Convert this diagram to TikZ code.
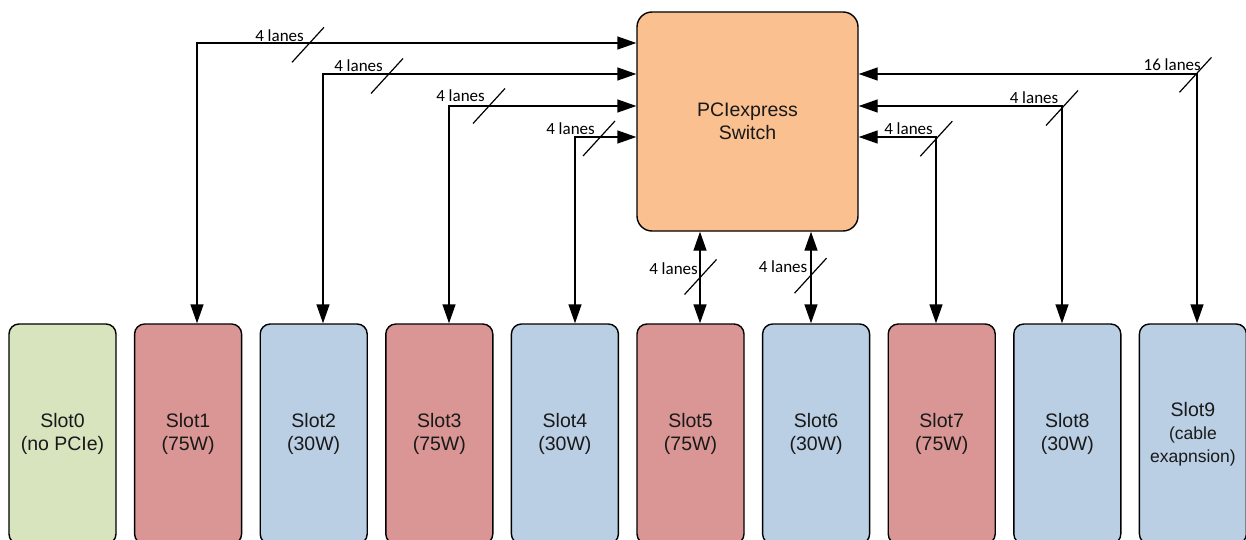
\documentclass[tikz,border=0pt]{standalone}
\usepackage{fontspec}
\setmainfont{Liberation Sans}
\newfontfamily\lanefont{Carlito}
\usetikzlibrary{arrows.meta}
\definecolor{switchfill}{HTML}{FAC090}
\definecolor{greenslot}{HTML}{D7E4BD}
\definecolor{redslot}{HTML}{D99694}
\definecolor{blueslot}{HTML}{BACEE4}

\begin{document}
\begin{tikzpicture}[x=1pt,y=-1pt,
  boxtext/.style={font=\fontsize{19.5}{23}\selectfont, align=center, text=black!90},
  slotbox/.style={boxtext, draw, line width=1.4pt, rounded corners=10pt,
    minimum width=107pt, minimum height=220pt, inner sep=0pt},
  greenbox/.style={slotbox, fill=greenslot},
  redbox/.style={slotbox, fill=redslot},
  bluebox/.style={slotbox, fill=blueslot},
  switchbox/.style={boxtext, draw, line width=1.4pt, rounded corners=15pt,
    fill=switchfill, minimum width=221pt, minimum height=219pt, inner sep=0pt},
  tip/.tip={Triangle[length=19pt,width=13pt]},
  link/.style={line width=1.4pt, tip-tip},
  lanelabel/.style={font=\lanefont\fontsize{17}{20}\selectfont, inner sep=0pt, anchor=base east},
  lanemark/.pic={\draw[line width=1.2pt] (-16,17.5) -- (16,-17.5);}
]
\useasboundingbox (0,0) rectangle (1246,540);

% switch
\node[switchbox] (sw) at (747.5,121.5) {PCIexpress\\Switch};

% slots (their lower edge runs just past the bottom of the page)
\node[greenbox] (slot0) at (62.5,434)  {Slot0\\(no PCIe)};
\node[redbox]   (slot1) at (188.1,434) {Slot1\\(75W)};
\node[bluebox]  (slot2) at (313.7,434) {Slot2\\(30W)};
\node[redbox]   (slot3) at (439.3,434) {Slot3\\(75W)};
\node[bluebox]  (slot4) at (564.9,434) {Slot4\\(30W)};
\node[redbox]   (slot5) at (690.5,434) {Slot5\\(75W)};
\node[bluebox]  (slot6) at (816.1,434) {Slot6\\(30W)};
\node[redbox]   (slot7) at (941.7,434) {Slot7\\(75W)};
\node[bluebox]  (slot8) at (1067.3,434) {Slot8\\(30W)};
\node[bluebox]  (slot9) at (1192.9,434)
  {Slot9\\\fontsize{17.5}{23.5}\selectfont(cable\\\fontsize{17.5}{23.5}\selectfont exapnsion)};

% routing corners
\coordinate (k1) at (197,43);
\coordinate (k2) at (323,74);
\coordinate (k3) at (449,106);
\coordinate (k4) at (575,137);
\coordinate (k5) at (700,0);
\coordinate (k6) at (811,0);
\coordinate (k7) at (936,137);
\coordinate (k8) at (1062,106);
\coordinate (k9) at (1197,74);

% links
\draw[link] (sw.west |- k1) -| (slot1.north -| k1);
\draw[link] (sw.west |- k2) -| (slot2.north -| k2);
\draw[link] (sw.west |- k3) -| (slot3.north -| k3);
\draw[link] (sw.west |- k4) -| (slot4.north -| k4);
\draw[link] (sw.south -| k5) -- (slot5.north -| k5);
\draw[link] (sw.south -| k6) -- (slot6.north -| k6);
\draw[link] (sw.east |- k7) -| (slot7.north -| k7);
\draw[link] (sw.east |- k8) -| (slot8.north -| k8);
\draw[link] (sw.east |- k9) -| (slot9.north -| k9);

% lane width marks
\pic at (308,44.8) {lanemark};
\pic at (387,76) {lanemark};
\pic at (489,106) {lanemark};
\pic at (599,138.5) {lanemark};
\pic at (700.5,277) {lanemark};
\pic at (810.5,275.7) {lanemark};
\pic at (936.3,138.7) {lanemark};
\pic at (1062,108) {lanemark};
\pic at (1195.5,74.8) {lanemark};

\node[lanelabel] (n1) at (304,41.7) {4 lanes};
\node[lanelabel] (n2) at (383,71.7) {4 lanes};
\node[lanelabel] (n3) at (485,101.7) {4 lanes};
\node[lanelabel] (n4) at (595,135) {4 lanes};
\node[lanelabel] (n5) at (698,274) {4 lanes};
\node[lanelabel] (n6) at (807.5,272.3) {4 lanes};
\node[lanelabel] (n7) at (933,135) {4 lanes};
\node[lanelabel] (n8) at (1058.5,103.3) {4 lanes};
\node[lanelabel] (n9) at (1201,70.7) {16 lanes};
\end{tikzpicture}
\end{document}
